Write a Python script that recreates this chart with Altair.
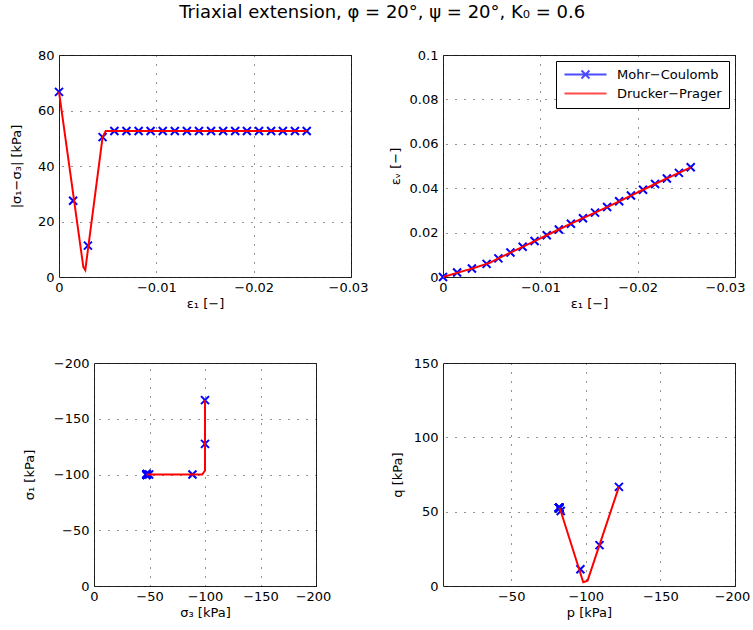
import altair as alt
import pandas as pd

# ---- Mohr-Coulomb results (markers) ----
mc_eps1 = [0, -0.00145, -0.00297, -0.00448, -0.00569, -0.00693, -0.00818,
           -0.00941, -0.01066, -0.0119, -0.01314, -0.01438, -0.01562, -0.01686,
           -0.0181, -0.01931, -0.02055, -0.02179, -0.0230, -0.02424, -0.02545]
mc_q = [66.7, 27.5, 11.3, 50.4, 52.6, 52.6, 52.6, 52.6, 52.6, 52.6, 52.6,
        52.6, 52.6, 52.6, 52.6, 52.6, 52.6, 52.6, 52.6, 52.6, 52.6]
mc_epsv = [0, 0.0020, 0.0038, 0.0059, 0.0084, 0.0110, 0.0136, 0.0162, 0.0188,
           0.0214, 0.0240, 0.0265, 0.0290, 0.0315, 0.0341, 0.0367, 0.0393,
           0.0419, 0.0444, 0.0469, 0.0494]
mc_sig3 = [-100, -100, -88.7, -49.6, -47.4, -47.4, -47.4, -47.4, -47.4, -47.4,
           -47.4, -47.4, -47.4, -47.4, -47.4, -47.4, -47.4, -47.4, -47.4,
           -47.4, -47.4]
mc_sig1 = [-166.7, -127.5, -100, -100, -100, -100, -100, -100, -100, -100,
           -100, -100, -100, -100, -100, -100, -100, -100, -100, -100, -100]
mc_p = [-122.2, -109.2, -96.4, -83.2, -82.2, -82.2, -82.2, -82.2, -82.2,
        -82.2, -82.2, -82.2, -82.2, -82.2, -82.2, -82.2, -82.2, -82.2, -82.2,
        -82.2, -82.2]

# ---- Drucker-Prager results (line) ----
dp_eps1 = [0, -0.0025, -0.0027, -0.00448, -0.0048, -0.00569, -0.00693,
           -0.00818, -0.00941, -0.01066, -0.0119, -0.01314, -0.01438, -0.01562,
           -0.01686, -0.0181, -0.01931, -0.02055, -0.02179, -0.0230, -0.02424,
           -0.02545]
dp_q = [66.7, 3.6, 2.5, 50.4, 52.6, 52.6, 52.6, 52.6, 52.6, 52.6, 52.6, 52.6,
        52.6, 52.6, 52.6, 52.6, 52.6, 52.6, 52.6, 52.6, 52.6, 52.6]
dp_epsv = [0, 0.0032, 0.0034, 0.0059, 0.0064, 0.0084, 0.0110, 0.0136, 0.0162,
           0.0188, 0.0214, 0.0240, 0.0265, 0.0290, 0.0315, 0.0341, 0.0367,
           0.0393, 0.0419, 0.0444, 0.0469, 0.0494]
dp_sig3 = [-100, -100, -97.5, -49.6, -47.4, -47.4, -47.4, -47.4, -47.4, -47.4,
           -47.4, -47.4, -47.4, -47.4, -47.4, -47.4, -47.4, -47.4, -47.4,
           -47.4, -47.4, -47.4]
dp_sig1 = [-166.7, -103.6, -100, -100, -100, -100, -100, -100, -100, -100,
           -100, -100, -100, -100, -100, -100, -100, -100, -100, -100, -100,
           -100]
dp_p = [-122.2, -101.2, -98.3, -83.2, -82.2, -82.2, -82.2, -82.2, -82.2,
        -82.2, -82.2, -82.2, -82.2, -82.2, -82.2, -82.2, -82.2, -82.2, -82.2,
        -82.2, -82.2, -82.2]

model_names = ["Mohr\u2212Coulomb", "Drucker\u2212Prager"]

FONT = "DejaVu Sans"
BLUE = "#0000ff"
RED = "#ff0000"
X_MARK = "M-1,-1L1,1M-1,1L1,-1"
# legend glyphs: a line segment (with a cross in its middle for the markers)
LEG_MC = "M-1,0L7.4,0M2.4,-0.8L4,0.8M2.4,0.8L4,-0.8"
LEG_DP = "M-1,0L7.4,0"

mc = pd.DataFrame({"step": range(len(mc_eps1)), "eps1": mc_eps1, "q": mc_q,
                   "epsv": mc_epsv, "sig3": mc_sig3, "sig1": mc_sig1, "p": mc_p})
dp = pd.DataFrame({"step": range(len(dp_eps1)), "eps1": dp_eps1, "q": dp_q,
                   "epsv": dp_epsv, "sig3": dp_sig3, "sig1": dp_sig1, "p": dp_p})
legend_df = pd.DataFrame({"model": model_names})


def last_label_shift(last, dx):
    return {"condition": {"test": f"datum.value == {last}", "value": dx}, "value": 0}


def panel(xf, yf, xdom, ydom, xvals, yvals, xtitle, ytitle, w, h,
          xrev=False, yrev=False, ytitle_pad=10, last_dx=-3, legend=False):
    x = alt.X(f"{xf}:Q", scale=alt.Scale(domain=xdom, reverse=xrev, nice=False, zero=False),
              axis=alt.Axis(values=xvals, title=xtitle, format="~r",
                            labelOffset=last_label_shift(xvals[-1], last_dx)))
    y = alt.Y(f"{yf}:Q", scale=alt.Scale(domain=ydom, reverse=yrev, nice=False, zero=False),
              axis=alt.Axis(values=yvals, title=ytitle, format="~r", titlePadding=ytitle_pad))
    pts = alt.Chart(mc).mark_point(shape=X_MARK, color=BLUE, size=64, strokeWidth=2,
                                   filled=False, opacity=1).encode(x=x, y=y)
    line = alt.Chart(dp).mark_line(color=RED, strokeWidth=2).encode(
        x=x, y=y, order=alt.Order("step:Q"))
    layers = [pts, line]
    if legend:
        leg_props = dict(title=None, orient="none", legendX=113, legendY=6,
                         strokeColor="#000", fillColor="white", padding=7,
                         labelFont=FONT, labelFontSize=13, labelColor="#000",
                         labelOffset=41, rowPadding=4, symbolSize=100,
                         symbolStrokeWidth=2)
        leg = alt.Chart(legend_df).transform_filter("false").mark_point(
            filled=False, strokeWidth=2, size=100).encode(
            color=alt.Color("model:N", scale=alt.Scale(domain=model_names, range=[BLUE, RED]),
                            legend=alt.Legend(**leg_props)),
            shape=alt.Shape("model:N", scale=alt.Scale(domain=model_names, range=[LEG_MC, LEG_DP]),
                            legend=alt.Legend(**leg_props)),
        )
        layers.append(leg)
    return alt.layer(*layers).properties(width=w, height=h)


p1 = panel("eps1", "q", [-0.03, 0], [0, 80], [0, -0.01, -0.02, -0.03], [0, 20, 40, 60, 80],
           "\u03b5\u2081 [\u2212]", "|\u03c3\u2081\u2212\u03c3\u2083| [kPa]", 292, 222,
           xrev=True, ytitle_pad=14)
p2 = panel("eps1", "epsv", [-0.03, 0], [0, 0.1], [0, -0.01, -0.02, -0.03],
           [0, 0.02, 0.04, 0.06, 0.08, 0.1],
           "\u03b5\u2081 [\u2212]", "\u03b5\u1d65 [\u2212]", 292, 222,
           xrev=True, ytitle_pad=7, last_dx=-10, legend=True)
p3 = panel("sig3", "sig1", [-200, 0], [-200, 0], [0, -50, -100, -150, -200],
           [0, -50, -100, -150, -200],
           "\u03c3\u2083 [kPa]", "\u03c3\u2081 [kPa]", 222, 223,
           xrev=True, yrev=True, ytitle_pad=17)
p4 = panel("p", "q", [-200, -4.3], [0, 150], [-50, -100, -150, -200], [0, 50, 100, 150],
           "p [kPa]", "q [kPa]", 292, 223, xrev=True, ytitle_pad=9)

chart = alt.concat(
    p1, p2, p3, p4, columns=2, spacing={"row": 86, "column": 92},
    bounds="flush", center=True,
).resolve_scale(color="independent", shape="independent").resolve_legend(
    color="independent", shape="independent"
).properties(
    title=alt.TitleParams(
        "Triaxial extension, \u03c6 = 20\u00b0, \u03c8 = 20\u00b0, K\u2080 = 0.6",
        font=FONT, fontSize=18, fontWeight="normal", color="#000", anchor="middle",
        offset=27, dx=2,
    ),
    padding={"left": 9, "top": 3, "right": 0, "bottom": 0},
    background="white",
).configure_view(
    stroke="#222", strokeWidth=1
).configure_axis(
    labelFont=FONT, titleFont=FONT, labelFontSize=13, titleFontSize=13,
    titleFontWeight="normal", labelColor="#000", titleColor="#000",
    domain=False, ticks=False, tickSize=0, labelPadding=5,
    labelFlush=False, labelOverlap=False,
    grid=True, gridColor="#000", gridDash=[1, 8], gridOpacity=0.85, gridWidth=1,
).configure_axisX(titlePadding=3, labelPadding=4)

chart.save("out.html", embed_options={"renderer": "svg", "actions": False})
